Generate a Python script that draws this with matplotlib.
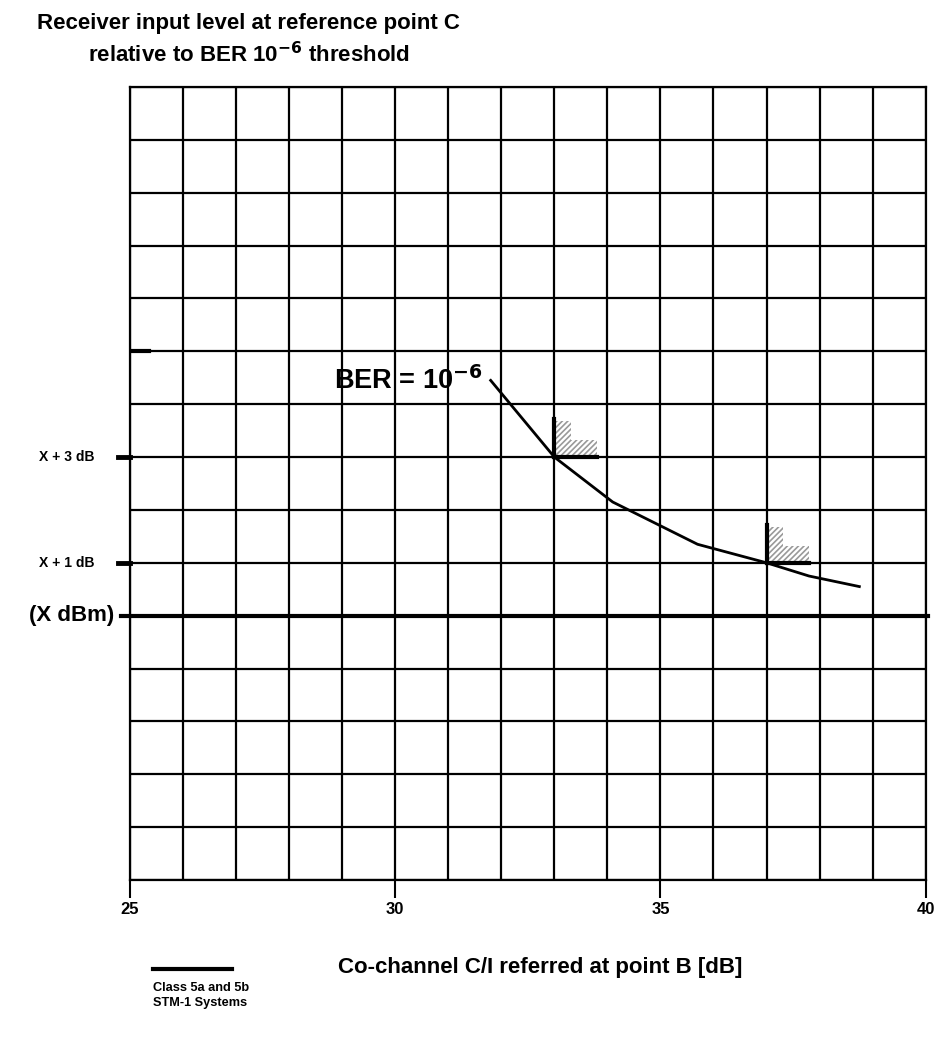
import matplotlib.pyplot as plt
from matplotlib.ticker import MultipleLocator

plt.rcParams['font.family'] = ['Liberation Sans', 'DejaVu Sans']
plt.rcParams['font.weight'] = 'bold'
plt.rcParams['hatch.linewidth'] = 1.2

# BER = 1e-6 curve, C/I [dB] vs receiver level above X [dB]
ci = [31.8, 33.0, 34.1, 35.0, 35.7, 37.0, 37.8, 38.75]
level = [4.45, 3.0, 2.15, 1.7, 1.35, 1.0, 0.75, 0.55]

# requirement points (C/I, level above threshold)
req_ci = [33.0, 37.0]
req_level = [3.0, 1.0]

xticks = [25, 30, 35, 40]
level_labels = {3: 'X + 3 dB', 1: 'X + 1 dB'}

fig = plt.figure(figsize=(9.35, 10.42), dpi=100)
ax = fig.add_axes([0.139, 0.1555, 0.851, 0.761])
ax.set_xlim(25, 40)
ax.set_ylim(-5, 10)

ax.xaxis.set_minor_locator(MultipleLocator(1))
ax.yaxis.set_major_locator(MultipleLocator(1))
ax.set_xticks(xticks)
ax.set_xticklabels([str(t) for t in xticks], fontsize=12, fontweight='bold')
ax.tick_params(axis='x', which='major', length=13, width=1.5, pad=3, direction='out')
ax.tick_params(axis='x', which='minor', length=0)
ax.tick_params(axis='y', which='both', length=0, labelleft=False)
ax.grid(which='both', color='black', linewidth=1.6)
for s in ax.spines.values():
    s.set_linewidth(1.6)

# threshold line (X dBm) thick and extended left
ax.plot([24.83, 40.05], [0, 0], color='black', linewidth=3, clip_on=False)
for lv in level_labels:
    ax.plot([24.78, 25], [lv, lv], color='black', linewidth=3.5, clip_on=False)
    ax.text(23.8, lv, level_labels[lv], ha='center', va='center', fontsize=10, fontweight='bold')
ax.text(23.9, 0, '(X dBm)', ha='center', va='center', fontsize=16, fontweight='bold')
ax.plot([25, 25.35], [5, 5], color='black', linewidth=3)

# curve
ax.plot(ci, level, color='black', linewidth=2)
ax.text(28.85, 4.45, r'BER = 10$^{\mathbf{-6}}$', fontsize=19.5, fontweight='bold', va='center')

# hatched requirement markers
for x0, y0 in zip(req_ci, req_level):
    ax.fill([x0, x0 + 0.32, x0 + 0.32, x0 + 0.8, x0 + 0.8, x0],
            [y0 + 0.68, y0 + 0.68, y0 + 0.32, y0 + 0.32, y0, y0],
            facecolor='white', edgecolor='#999999', hatch='//////', linewidth=0, zorder=3)
    ax.plot([x0, x0], [y0, y0 + 0.72], color='black', linewidth=3, zorder=4)
    ax.plot([x0, x0 + 0.8], [y0, y0], color='black', linewidth=3, zorder=4)

ax.set_xlabel('Co-channel C/I referred at point B [dB]', fontsize=16, fontweight='bold', labelpad=29)
ax.xaxis.label.set_x(0.515)

fig.text(0.266, 0.977, 'Receiver input level at reference point C', ha='center', va='center',
         fontsize=16, fontweight='bold')
fig.text(0.266, 0.948, r'relative to BER 10$^{\mathbf{-6}}$ threshold', ha='center', va='center',
         fontsize=16, fontweight='bold')

# legend
fig.add_artist(plt.Line2D([0.1636, 0.248], [0.07, 0.07], color='black', linewidth=3))
fig.text(0.1636, 0.052, 'Class 5a and 5b', fontsize=9.2, fontweight='bold', va='center')
fig.text(0.1636, 0.037, 'STM-1 Systems', fontsize=9.2, fontweight='bold', va='center')

fig.savefig('out.png', dpi=100)
